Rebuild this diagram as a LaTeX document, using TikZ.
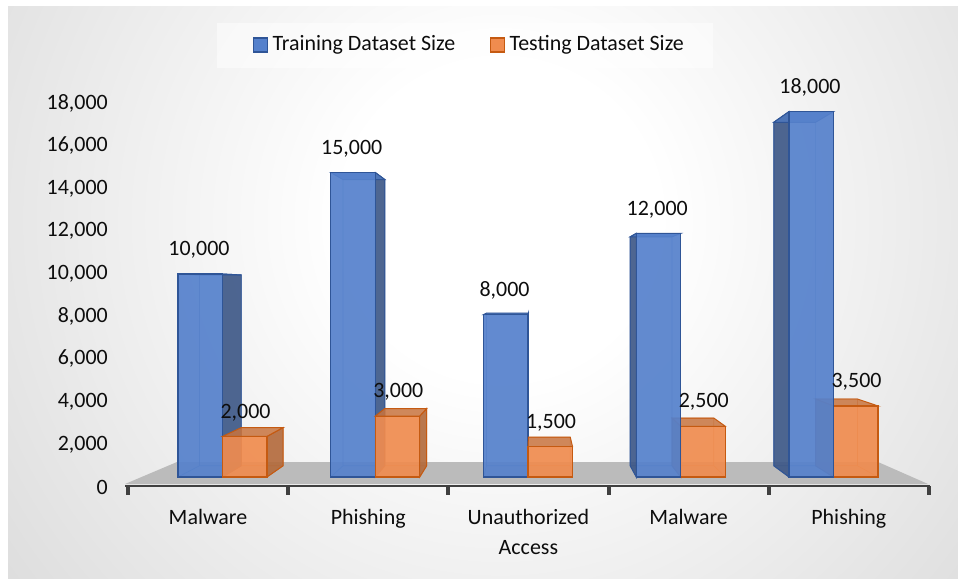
\documentclass[tikz,border=0pt]{standalone}
\usepackage{fontspec}
\setmainfont{Carlito}
\usetikzlibrary{positioning}

\definecolor{trainfill}{HTML}{5581CC}
\definecolor{trainedge}{HTML}{2F5597}
\definecolor{trainside}{HTML}{3B5686}
\definecolor{traintop}{HTML}{4F78BD}
\definecolor{testfill}{HTML}{F08C4F}
\definecolor{testedge}{HTML}{C55A11}
\definecolor{testside}{HTML}{B3693A}
\definecolor{testtop}{HTML}{C8743F}
\definecolor{floorgrey}{HTML}{BBBBBB}
\definecolor{axisgrey}{HTML}{404040}

\pgfdeclareradialshading{chartglow}{\pgfpointorigin}{color(0bp)=(white); color(6bp)=(white); color(44bp)=(black!29); color(50bp)=(black!31)}
\pgfkeys{/pgf/number format/.cd, fixed, precision=0, 1000 sep={,}, assume math mode=true}

% 3D column: left x, right x, value in thousands, colour prefix (train/test)
\newcommand{\drawcolumn}[4]{%
  \pgfmathsetmacro{\colL}{#1}
  \pgfmathsetmacro{\colR}{#2}
  \pgfmathsetmacro{\colT}{477-20.3*#3}
  \pgfmathsetmacro{\colLb}{535+0.94*(\colL-535)}
  \pgfmathsetmacro{\colRb}{535+0.94*(\colR-535)}
  \pgfmathsetmacro{\colTb}{290+0.94*(\colT-290)}
  \pgfmathsetmacro{\colBb}{290+0.94*(477-290)}
  % edges at the back, seen through the front
  \draw[#4edge, line width=0.5pt, opacity=0.6]
    (\colLb,\colBb) rectangle (\colRb,\colTb)
    (\colL,477) -- (\colLb,\colBb) (\colR,477) -- (\colRb,\colBb);
  % side face turned to the middle
  \ifdim\colR pt<535pt
    \filldraw[fill=#4side, draw=#4edge, fill opacity=0.9, line width=0.7pt]
      (\colR,477) -- (\colR,\colT) -- (\colRb,\colTb) -- (\colRb,\colBb) -- cycle;
  \fi
  \ifdim\colL pt>535pt
    \filldraw[fill=#4side, draw=#4edge, fill opacity=0.9, line width=0.7pt]
      (\colL,477) -- (\colL,\colT) -- (\colLb,\colTb) -- (\colLb,\colBb) -- cycle;
  \fi
  % top
  \filldraw[fill=#4top, draw=#4edge, fill opacity=0.85, line width=0.7pt]
    (\colL,\colT) -- (\colR,\colT) -- (\colRb,\colTb) -- (\colLb,\colTb) -- cycle;
  % front
  \filldraw[fill=#4fill, draw=#4edge, fill opacity=0.92, line width=0.8pt]
    (\colL,477) rectangle (\colR,\colT);
}

\begin{document}
\begin{tikzpicture}[
  x=0.025cm, y=-0.025cm,
  chartfont/.style={font=\fontsize{15.6}{21.3}\selectfont, text=black!95},
  vallabel/.style={chartfont, inner sep=0pt},
  ticklabel/.style={chartfont, inner sep=0pt, anchor=east},
  catlabel/.style={chartfont, inner sep=0pt, align=center, anchor=north},
  swatch/.style={minimum size=0.35cm, inner sep=0pt, line width=0.8pt},
  legtext/.style={chartfont, inner sep=0pt, anchor=west}
]
\useasboundingbox (0,0) rectangle (958,578);
\fill[white] (0,0) rectangle (958,578);

% chart area
\begin{scope}
  \clip (8,7) rectangle (958,578);
  \shade[shading=chartglow] (500,220) circle (660);
\end{scope}

% legend
\fill[white, opacity=0.5] (217,23) rectangle (713,68);
\node[swatch, fill=trainfill, draw=trainedge] (keytrain) at (260.5,45) {};
\node[legtext, right=3pt of keytrain] (keytraintext) {Training Dataset Size};
\node[swatch, fill=testfill, draw=testedge] (keytest) at (497.5,45) {};
\node[legtext, right=3pt of keytest] (keytesttext) {Testing Dataset Size};

% value axis
\foreach \k in {0,...,9} {
  \pgfmathtruncatemacro{\v}{2*\k}
  \node[ticklabel] (ytick\k) at (108,487-42.67*\k) {\pgfmathprintnumber{\v e3}};
}

% floor and category axis
\fill[floorgrey] (125,484) -- (177,462) -- (878,462) -- (928,484) -- cycle;
\draw[axisgrey, line width=2.1pt] (125,486) -- (930,486);
\foreach \j in {0,...,5}
  \draw[axisgrey, line width=2.8pt] (128+160.2*\j,486) -- ++(0,9);

% columns, values in thousands
\foreach \i/\cat/\tr/\te in {1/Malware/10/2, 2/Phishing/15/3,
    3/{Unauthorized\\Access}/8/1.5, 4/Malware/12/2.5, 5/Phishing/18/3.5} {
  \pgfmathsetmacro{\bx}{178+152.75*(\i-1)}
  \pgfmathsetmacro{\ox}{\bx+44.5}
  \pgfmathsetmacro{\ex}{\bx+89}
  \pgfmathsetmacro{\cx}{208+160.2*(\i-1)}
  \ifnum\i<4
    \drawcolumn{\bx}{\ox}{\tr}{train}
    \drawcolumn{\ox}{\ex}{\te}{test}
  \else
    \drawcolumn{\ox}{\ex}{\te}{test}
    \drawcolumn{\bx}{\ox}{\tr}{train}
  \fi
  \node[vallabel] (train\i) at (\bx+21, 477-20.3*\tr-24) {\pgfmathprintnumber{\tr e3}};
  \node[vallabel] (test\i) at (\ox+23, 477-20.3*\te-24) {\pgfmathprintnumber{\te e3}};
  \node[catlabel] (cat\i) at (\cx,509) {\cat};
}

\end{tikzpicture}
\end{document}
